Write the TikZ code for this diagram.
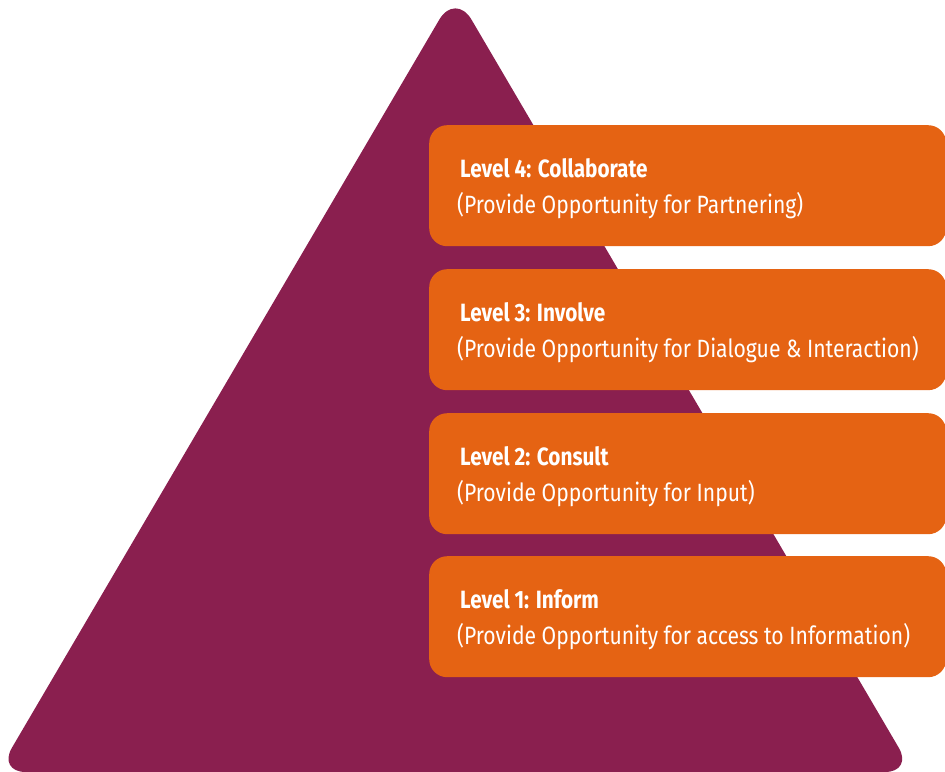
\documentclass[tikz,border=0pt]{standalone}
\usepackage{fontspec}
\setmainfont[FakeStretch=0.83]{Fira Sans}
\newfontfamily\subfont[FakeStretch=0.845]{Fira Sans}
\definecolor{pyrplum}{RGB}{138,31,79}
\definecolor{boxorange}{RGB}{229,99,19}
\begin{document}
\begin{tikzpicture}[x=1pt,y=-1pt,
  levelbox/.style={fill=boxorange, rounded corners=18pt, anchor=north west, minimum width=517pt, minimum height=121pt, inner sep=0pt, draw=none},
  titletext/.style={anchor=base west, inner sep=0pt, text=white, font=\fontsize{25}{30}\selectfont\bfseries},
  subtext/.style={anchor=base west, inner sep=0pt, text=white, font=\subfont\fontsize{25}{30}\selectfont}
]
\useasboundingbox (0,0) rectangle (945,771);
% pyramid
\coordinate (base) at (455.4,772);
\coordinate (left) at (-2.3,772);
\coordinate (apex) at (455.4,-7.8);
\coordinate (right) at (913,772);
\fill[pyrplum] (base) [rounded corners=28pt] -- (left) [rounded corners=32pt] -- (apex) [rounded corners=28pt] -- (right) -- cycle;
% boxes
\foreach \n/\top in {4/125,3/269,2/413,1/556}{
  \node[levelbox] (b\n) at (429,\top) {};
}
\node[titletext] (t4) at (460,177) {Level 4: Collaborate};
\node[subtext] (s4) at (457,213) {(Provide Opportunity for Partnering)};
\node[titletext] (t3) at (460,321) {Level 3: Involve};
\node[subtext] (s3) at (457,357) {(Provide Opportunity for Dialogue \& Interaction)};
\node[titletext] (t2) at (460,465) {Level 2: Consult};
\node[subtext] (s2) at (457,501) {(Provide Opportunity for Input)};
\node[titletext] (t1) at (460,608) {Level 1: Inform};
\node[subtext] (s1) at (457,644) {(Provide Opportunity for access to Information)};
\end{tikzpicture}
\end{document}
